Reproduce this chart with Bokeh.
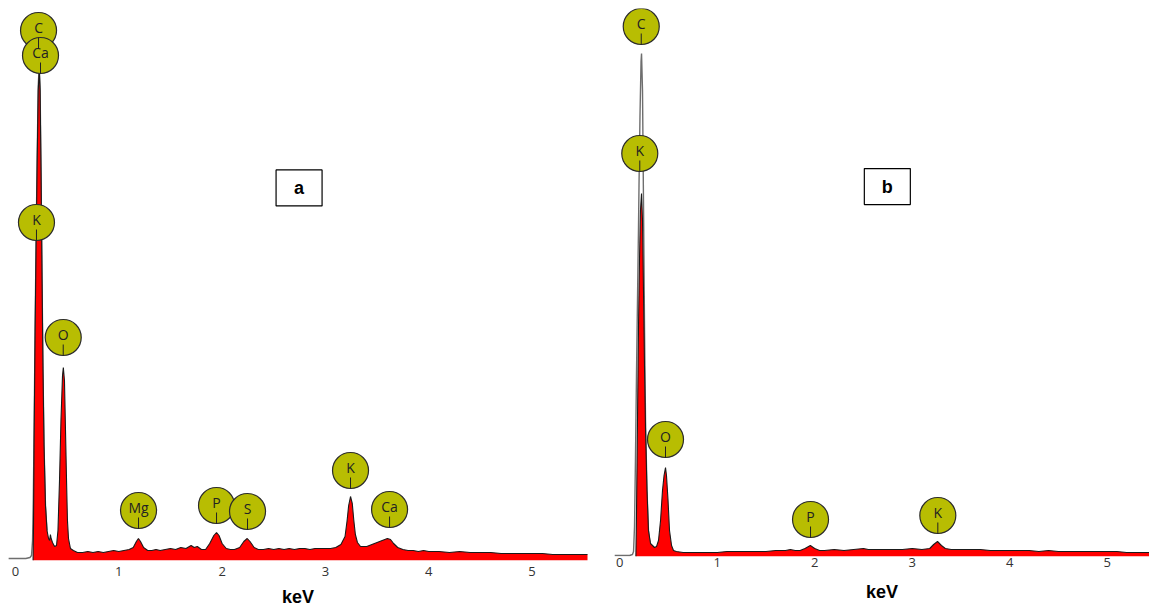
from bokeh.plotting import figure
from bokeh.layouts import row
from bokeh.models import Range1d, FixedTicker
from bokeh.core.properties import value
from bokeh.embed import file_html
from bokeh.resources import INLINE

# ---------------- data: panel a ----------------
a_energy = [0.170, 0.174, 0.180, 0.190, 0.200, 0.210, 0.220, 0.230, 0.238, 0.247,
            0.257, 0.266, 0.276, 0.290, 0.305, 0.320, 0.330, 0.338, 0.345, 0.358,
            0.378, 0.397, 0.411, 0.426, 0.440, 0.455, 0.463, 0.474, 0.484, 0.494,
            0.503, 0.513, 0.532, 0.560, 0.600, 0.650, 0.700, 0.750, 0.800, 0.850,
            0.900, 0.950, 1.000, 1.050, 1.100, 1.140, 1.170, 1.190, 1.210, 1.240,
            1.280, 1.320, 1.360, 1.400, 1.450, 1.500, 1.550, 1.600, 1.650, 1.700,
            1.730, 1.760, 1.800, 1.840, 1.880, 1.920, 1.946, 1.970, 2.000, 2.040,
            2.080, 2.120, 2.170, 2.210, 2.243, 2.270, 2.310, 2.350, 2.400, 2.450,
            2.500, 2.550, 2.600, 2.650, 2.700, 2.750, 2.800, 2.850, 2.900, 2.950,
            3.000, 3.050, 3.100, 3.150, 3.190, 3.210, 3.225, 3.243, 3.260, 3.275,
            3.290, 3.310, 3.340, 3.370, 3.400, 3.450, 3.500, 3.550, 3.600, 3.630,
            3.660, 3.700, 3.750, 3.800, 3.850, 3.900, 3.950, 4.000, 4.100, 4.200,
            4.300, 4.400, 4.500, 4.600, 4.700, 4.800, 4.900, 5.000, 5.100, 5.200,
            5.300, 5.400, 5.550]
a_counts = [0, 30, 120, 230, 320, 400, 470, 490, 470, 390,
            280, 190, 115, 55, 30, 22, 20, 26, 22, 18,
            14, 15, 30, 80, 140, 185, 193, 180, 130, 80,
            40, 22, 12, 10, 8, 8, 9, 8, 9, 8,
            9, 10, 9, 10, 11, 13, 19, 22, 19, 13,
            10, 10, 11, 10, 11, 12, 11, 13, 12, 15,
            13, 14, 11, 11, 17, 25, 28, 25, 17, 12,
            11, 11, 13, 19, 22, 19, 13, 11, 11, 12,
            11, 12, 11, 12, 11, 12, 12, 11, 12, 12,
            12, 12, 13, 16, 24, 40, 55, 64, 57, 40,
            26, 18, 14, 14, 14, 16, 18, 20, 22, 21,
            17, 13, 11, 10, 10, 9, 10, 9, 9, 8,
            9, 8, 8, 8, 7, 7, 7, 7, 7, 6,
            6, 6, 6]
# second (outline) spectrum, low-energy part
a_ref_energy = [-0.070, 0.000, 0.050, 0.100, 0.140, 0.155, 0.165, 0.172, 0.180,
                0.190, 0.200, 0.210, 0.220, 0.230, 0.238, 0.247, 0.257, 0.266,
                0.276, 0.290, 0.305]
a_ref_counts = [2, 2, 2, 2, 3, 5, 20, 60, 130,
                235, 325, 405, 475, 495, 472, 390, 280, 190,
                115, 55, 30]
a_lbl = ["C", "Ca", "K", "O", "Mg", "P", "S", "K", "Ca"]
a_lbl_e = [0.223, 0.242, 0.203, 0.462, 1.191, 1.946, 2.246, 3.243, 3.621]
a_lbl_h = [530, 505, 338, 223, 50, 55, 49, 90, 51]

# ---------------- data: panel b ----------------
b_energy = [0.165, 0.171, 0.182, 0.192, 0.202, 0.212, 0.223, 0.233, 0.243, 0.254,
            0.264, 0.279, 0.294, 0.315, 0.336, 0.356, 0.377, 0.397, 0.418, 0.438,
            0.454, 0.469, 0.479, 0.495, 0.510, 0.531, 0.551, 0.580, 0.650, 0.700,
            0.800, 0.900, 1.000, 1.100, 1.200, 1.300, 1.400, 1.500, 1.600, 1.700,
            1.750, 1.800, 1.850, 1.900, 1.955, 2.000, 2.050, 2.100, 2.200, 2.300,
            2.400, 2.500, 2.550, 2.600, 2.700, 2.800, 2.900, 3.000, 3.100, 3.180,
            3.220, 3.260, 3.300, 3.340, 3.400, 3.500, 3.600, 3.700, 3.800, 3.900,
            4.000, 4.100, 4.200, 4.300, 4.400, 4.500, 4.600, 4.700, 4.800, 4.900,
            5.000, 5.100, 5.200, 5.300, 5.450]
b_counts = [0, 40, 140, 230, 296, 346, 363, 336, 266, 186,
            126, 66, 26, 13, 11, 9, 10, 16, 36, 66,
            81, 89, 81, 56, 26, 11, 6, 5, 4, 4,
            4, 4, 4, 5, 5, 5, 5, 5, 6, 6,
            7, 6, 6, 8, 11, 8, 6, 6, 7, 6,
            7, 8, 7, 7, 7, 7, 7, 8, 7, 8,
            12, 15, 11, 8, 7, 7, 7, 7, 6, 6,
            6, 6, 6, 5, 6, 5, 5, 5, 5, 5,
            5, 5, 4, 4, 4]
b_ref_energy = [-0.055, 0.050, 0.100, 0.130, 0.141, 0.151, 0.161, 0.171, 0.182,
                0.192, 0.197, 0.207, 0.218, 0.223, 0.233, 0.243, 0.254, 0.264,
                0.279, 0.294, 0.310]
b_ref_counts = [1, 1, 1, 2, 5, 30, 100, 180, 260,
                330, 370, 440, 495, 503, 466, 356, 226, 136,
                66, 26, 14]
b_lbl = ["C", "K", "O", "P", "K"]
b_lbl_e = [0.220, 0.205, 0.469, 1.957, 3.263]
b_lbl_h = [530, 403, 117, 37, 41]

ticks = [0, 1, 2, 3, 4, 5]

TICK_FONT = "Open Sans"
BOLD_FONT = "Liberation Sans"
CIRCLE_FILL = "#b8bd02"


def panel(energy, counts, ref_e, ref_c, lbl, lbl_e, lbl_h, tag, xr, yr,
          fw, fh, mb_left, mb_right, mb_top, mb_bottom, lbl_standoff, ax_standoff):
    p = figure(frame_width=fw, frame_height=fh, output_backend="svg",
               toolbar_location=None, y_axis_location=None,
               x_range=Range1d(*xr), y_range=Range1d(*yr),
               min_border_left=mb_left, min_border_right=mb_right,
               min_border_top=mb_top, min_border_bottom=mb_bottom)
    p.grid.visible = False
    p.outline_line_color = None
    p.background_fill_color = "white"
    p.border_fill_color = "white"

    # overlaid reference spectrum (outline)
    p.line(ref_e, ref_c, line_color="#6e6e6e", line_width=1.4)
    # filled spectrum
    p.varea(x=energy, y1=[0] * len(energy), y2=counts, fill_color="#ff0000")
    p.line(energy, counts, line_color="#1a1a1a", line_width=1.1)

    # element markers
    p.scatter(lbl_e, lbl_h, marker="circle", size=36, fill_color=CIRCLE_FILL,
              line_color="#2b2b2b", line_width=1.2)
    p.segment(x0=lbl_e, y0=[h - 7 for h in lbl_h], x1=lbl_e,
              y1=[h - 18 for h in lbl_h], line_color="#222222", line_width=1)
    p.text(lbl_e, lbl_h, text=lbl, text_align="center", text_baseline="middle",
           y_offset=-3, text_font=value(TICK_FONT), text_font_size="14px",
           text_color="#222222")

    # panel tag box
    p.rect(x=[2.745], y=[yr[1] * 0.675], width=46, height=36,
           width_units="screen", height_units="screen",
           fill_color="white", line_color="black", line_width=1.2)
    p.text(x=[2.745], y=[yr[1] * 0.675], text=[tag], text_align="center",
           text_baseline="middle", text_font=value(BOLD_FONT),
           text_font_size="18px", text_font_style="bold", text_color="black")

    ax = p.xaxis[0]
    ax.ticker = FixedTicker(ticks=ticks)
    ax.axis_line_color = None
    ax.major_tick_line_color = None
    ax.minor_tick_line_color = None
    ax.major_tick_out = 0
    ax.major_tick_in = 0
    ax.major_label_standoff = lbl_standoff
    ax.major_label_text_font = TICK_FONT
    ax.major_label_text_font_size = "13px"
    ax.major_label_text_color = "#333333"
    ax.axis_label = "keV"
    ax.axis_label_text_font = BOLD_FONT
    ax.axis_label_text_font_style = "bold"
    ax.axis_label_text_font_size = "18px"
    ax.axis_label_text_color = "black"
    ax.axis_label_standoff = ax_standoff
    return p


pa = panel(a_energy, a_counts, a_ref_energy, a_ref_counts, a_lbl, a_lbl_e, a_lbl_h,
           "a", (-0.0678, 5.537), (0, 552), 579, 552, 8, 9, 8, 44, 6, 8)
pb = panel(b_energy, b_counts, b_ref_energy, b_ref_counts, b_lbl, b_lbl_e, b_lbl_h,
           "b", (-0.0544, 5.435), (0, 548), 535, 548, 18, 0, 8, 48, 1, 12)

layout = row(pa, pb, spacing=0)
open("out.html", "w").write(file_html(layout, INLINE))
